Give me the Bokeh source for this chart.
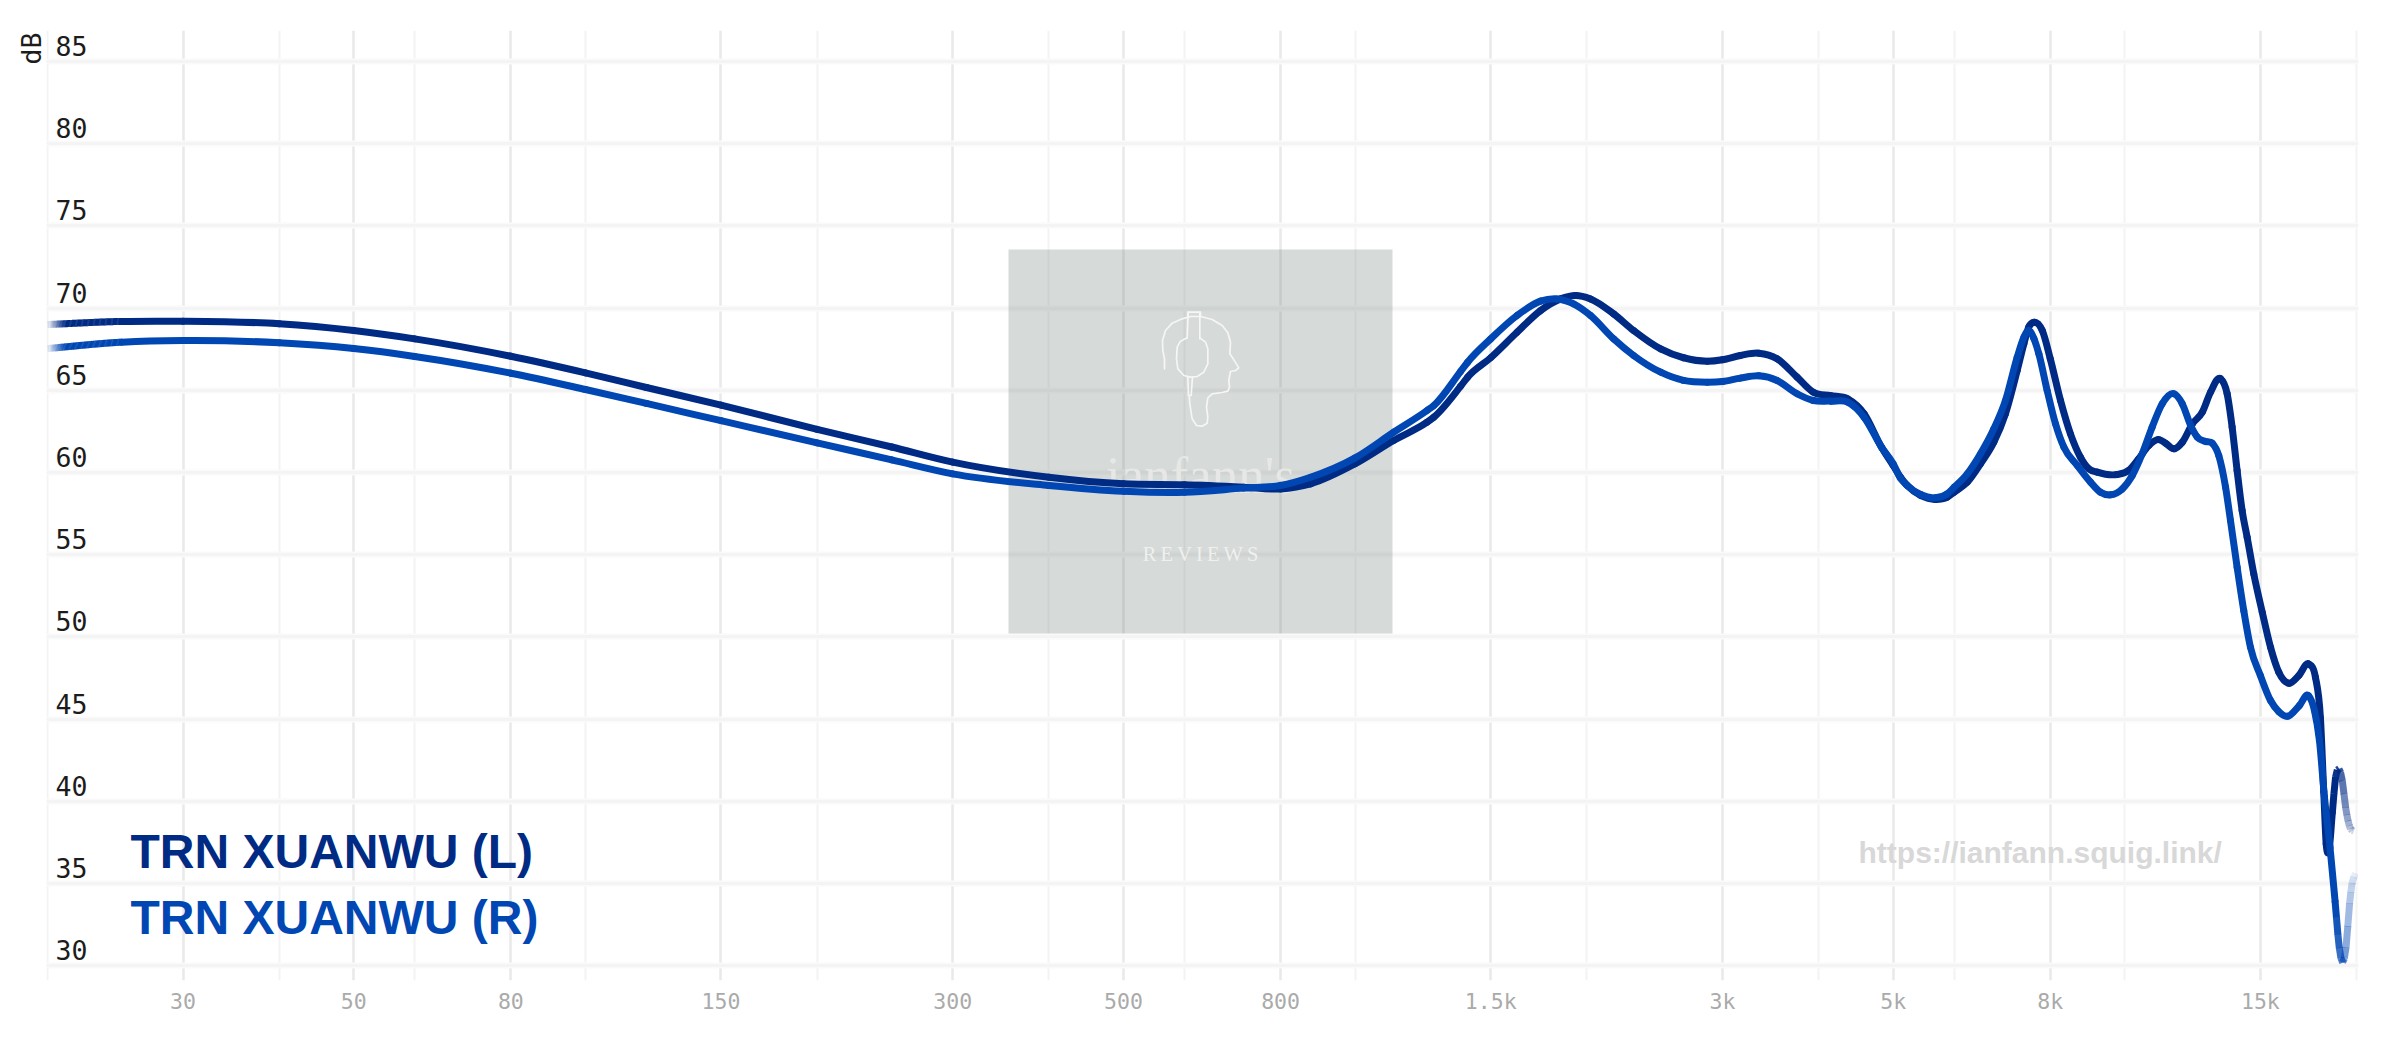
import math
from bokeh.plotting import figure
from bokeh.models import FixedTicker, Grid
from bokeh.core.properties import value
from bokeh.embed import file_html
from bokeh.resources import INLINE

L_NAME = "TRN XUANWU (L)"
R_NAME = "TRN XUANWU (R)"
URL = "https://ianfann.squig.link/"
Y_TICKS = [30, 35, 40, 45, 50, 55, 60, 65, 70, 75, 80, 85]
X_LABELLED = [30, 50, 80, 150, 300, 500, 800, 1500, 3000, 5000, 8000, 15000]
X_LABELS = ["30", "50", "80", "150", "300", "500", "800", "1.5k", "3k", "5k", "8k", "15k"]
X_MINOR = [20, 40, 60, 100, 200, 400, 600, 1000, 2000, 4000, 6000, 10000, 20000]

L_FREQ = [20, 25, 30, 40, 50, 60, 80, 100, 120, 150, 200, 250, 300, 400, 500, 600, 716, 800, 875, 1000, 1122, 1240,
          1265, 1371, 1400, 1500, 1623, 1741, 1849, 1933, 2022, 2167, 2300, 2494, 2671, 2868, 3000, 3166, 3345, 3533, 3751, 3938,
          4150, 4364, 4584, 4829, 5000, 5112, 5214, 5428, 5674, 5878, 6000, 6241, 6493, 6757, 6996, 7246, 7393, 7500, 7631, 7810,
          8000, 8249, 8498, 8756, 8979, 9207, 9775, 10111, 10420, 10742, 11069, 11295, 11580, 11875, 12238, 12608, 12920, 13315,
          13580, 13784, 13991, 14202, 14418, 14706, 15084, 15462, 15850, 16326, 16827, 17334, 17684, 17951, 18130, 18263, 18408,
          18598, 18782, 18970, 19164, 19355, 19639, 19819]
L_DB = [69.0, 69.19, 69.2, 69.05, 68.64, 68.13, 67.07, 66.06, 65.17, 64.1, 62.62, 61.55, 60.63, 59.71, 59.31, 59.25, 59.11, 59.0, 59.31, 60.53, 61.95, 63.06,
        63.36, 65.25, 65.8, 66.98, 68.53, 69.85, 70.56, 70.77, 70.56, 69.65, 68.64, 67.52, 66.98, 66.77, 66.86, 67.12, 67.26, 66.92, 65.8, 64.88,
        64.67, 64.48, 63.57, 61.54, 60.43, 59.71, 59.21, 58.6, 58.36, 58.5, 58.8, 59.41, 60.53, 61.84, 63.57, 66.2, 67.83, 68.84, 69.14, 68.64,
        66.92, 64.38, 62.35, 60.93, 60.22, 60.02, 59.88, 60.12, 60.83, 61.64, 62.0, 61.78, 61.44, 61.84, 62.96, 63.67, 64.88, 65.7,
        64.79, 62.76, 60.12, 57.69, 56.06, 53.83, 51.5, 49.37, 47.85, 47.18, 47.65, 48.35, 47.55, 45.07, 40.6, 37.4, 36.97,
        39.24, 41.46, 41.97, 41.26, 39.64, 38.33, 38.2]

R_FREQ = [20, 25, 30, 40, 50, 60, 80, 100, 120, 150, 200, 250, 300, 400, 500, 600, 716, 800, 875, 1000, 1122, 1240,
          1265, 1371, 1400, 1500, 1623, 1741, 1828, 1922, 2022, 2167, 2300, 2494, 2671, 2868, 3000, 3166, 3345, 3533, 3751, 3938,
          4150, 4364, 4584, 4829, 5000, 5112, 5214, 5428, 5674, 5878, 6000, 6241, 6493, 6757, 6996, 7246, 7393, 7500, 7618, 7731,
          7926, 8126, 8332, 8673, 9024, 9296, 9582, 9922, 10225, 10534, 10851, 11183, 11580, 11875, 12175, 12421, 12732, 12986,
          13243, 13515, 13716, 13991, 14272, 14561, 15000, 15462, 15850, 16264, 16860, 17319, 17632, 17897, 18168, 18473, 18752, 18992,
          19181, 19378, 19586, 19730, 19939]
R_DB = [67.54, 67.93, 68.03, 67.89, 67.54, 67.06, 66.04, 65.05, 64.2, 63.15, 61.8, 60.77, 59.92, 59.21, 58.86, 58.8, 59.05, 59.21, 59.71, 60.89, 62.45, 63.77,
        64.07, 66.15, 66.71, 68.13, 69.55, 70.42, 70.56, 70.26, 69.55, 68.13, 67.12, 66.1, 65.6, 65.49, 65.53, 65.74, 65.88, 65.6, 64.79, 64.38,
        64.34, 64.28, 63.36, 61.54, 60.53, 59.64, 59.21, 58.66, 58.46, 58.7, 59.1, 59.92, 61.14, 62.66, 64.38, 67.01, 68.23, 68.64, 68.15, 67.22,
        64.99, 62.96, 61.54, 60.43, 59.41, 58.8, 58.64, 59.0, 59.82, 61.14, 62.76, 64.18, 64.79, 64.18, 62.86, 62.15, 61.89, 61.78,
        61.03, 59.11, 57.08, 54.24, 51.6, 49.37, 47.65, 46.13, 45.45, 45.17, 45.83, 46.43, 45.52, 43.7, 40.25, 37.2, 33.96, 31.1,
        30.2, 31.1, 33.77, 35.0, 35.6]

L_COLOR = "#002b84"
R_COLOR = "#0047b3"
MONO = "DejaVu Sans Mono"

def f_of_px(px):
    return 30 * 10 ** ((px - 182.5) / 769.7)
def px_of_f(f):
    return 182.5 + 769.7 * math.log10(f / 30)
def db_of_py(py):
    return 85 - (py - 61) / 16.44

FRAME_L, FRAME_R, FRAME_T, FRAME_B = 46, 2358, 30, 980
W, H = 2384, 1022
p = figure(width=W, height=H, x_axis_type="log",
           x_range=(f_of_px(FRAME_L), f_of_px(FRAME_R)),
           y_range=(db_of_py(FRAME_B), db_of_py(FRAME_T)),
           output_backend="svg", toolbar_location=None,
           title="dB", title_location="left",
           min_border_left=FRAME_L, min_border_right=W - FRAME_R,
           min_border_top=FRAME_T, min_border_bottom=H - FRAME_B)
p.outline_line_color = None
p.background_fill_color = "white"
p.border_fill_color = "white"

# "dB" is the chart's left title, pushed to the top corner
p.title.align = "right"
p.title.text_font = MONO
p.title.text_font_size = "26.5px"
p.title.text_font_style = "normal"
p.title.text_color = "#1c1c1c"
p.title.standoff = 0
p.title.offset = 2
p.yaxis.visible = False

# x axis
ax = p.xaxis[0]
ax.ticker = FixedTicker(ticks=X_LABELLED)
ax.major_label_overrides = {t: s for t, s in zip(X_LABELLED, X_LABELS)}
ax.axis_line_color = None
ax.major_tick_line_color = None
ax.minor_tick_line_color = None
ax.major_label_text_color = "#aaaaaa"
ax.major_label_text_font = MONO
ax.major_label_text_font_size = "21.5px"
ax.major_label_standoff = 2

p.xgrid.visible = False
p.ygrid.visible = False
p.add_layout(Grid(dimension=0, ticker=FixedTicker(ticks=X_MINOR), grid_line_color="#f3f3f3", grid_line_width=2))
p.add_layout(Grid(dimension=0, ticker=FixedTicker(ticks=X_LABELLED), grid_line_color="#e9e9e9", grid_line_width=2.5))
p.add_layout(Grid(dimension=1, ticker=FixedTicker(ticks=Y_TICKS), grid_line_color="#fafafa", grid_line_width=6))
p.add_layout(Grid(dimension=1, ticker=FixedTicker(ticks=Y_TICKS), grid_line_color="#f4f4f4", grid_line_width=3))

# watermark
p.quad(left=[f_of_px(1008)], right=[f_of_px(1392)], bottom=[db_of_py(633)], top=[db_of_py(249)],
       fill_color="#78847f", fill_alpha=0.3, line_color=None)
LOGO = [
    [(222,205),(222,175),(217,150),(216,120),(225,90),(245,68),(275,55),(300,48),(330,48),(365,57),(395,75),(412,97),(420,125),
     (418,160),(430,178),(445,202),(435,210),(420,213),(417,228),(415,240),(417,260),(412,272),(395,276),(365,280),(352,292),
     (348,320),(352,350),(350,368),(335,377),(318,375),(305,355),(298,310),(296,285)],
    [(293,48),(293,35),(330,35),(330,48)],
    [(293,35),(290,112)],
    [(328,35),(328,115)],
    [(290,112),(270,122),(260,140),(258,175),(262,205),(280,225),(300,230),(320,228),(340,215),(352,190),(352,145),(345,125),(328,112)],
    [(292,228),(294,285),(302,285),(306,230)],
]
p.multi_line([[f_of_px(1090 + a / 3) for a, b in s] for s in LOGO],
             [[db_of_py(300 + b / 3) for a, b in s] for s in LOGO],
             line_color="#f6f6f4", line_width=1.7, line_join="round", line_cap="round")
p.text(x=[f_of_px(1200)], y=[db_of_py(474)], text=["ianfann's"], text_align="center", text_baseline="middle",
       text_font=value("Liberation Serif"), text_font_size="53px", text_color="#e7e8e5")
p.text(x=[f_of_px(1200)], y=[db_of_py(553)], text=["R\u2009E\u2009V\u2009I\u2009E\u2009W\u2009S"], text_align="center",
       text_baseline="middle", text_font=value("Liberation Serif"), text_font_size="20.5px", text_color="#f0f0ee")

# y tick labels sit inside the plot, just above each grid line
p.text(x=[f_of_px(FRAME_L)] * len(Y_TICKS), y=Y_TICKS, text=[str(v) for v in Y_TICKS], x_offset=9, y_offset=-15.5,
       text_align="left", text_baseline="middle", text_font=value(MONO), text_font_size="26.5px", text_color="#1c1c1c")

p.text(x=[f_of_px(1858)], y=[db_of_py(852)], text=[URL], text_align="left", text_baseline="middle",
       text_font=value("Liberation Sans"), text_font_style="bold", text_font_size="30px", text_color="#d8d8d8")

# curves, drawn as smooth segments through the values read, with ends fading out
LW = 7
FADE_L0, FADE_L1, FADE_R0, FADE_R1 = 47, 65, 2335, 2356
def alpha_at(px):
    if px < FADE_L1:
        return max(0.1, (px - FADE_L0) / (FADE_L1 - FADE_L0))
    if px > FADE_R0:
        return max(0.05, (FADE_R1 - px) / (FADE_R1 - FADE_R0))
    return 1.0

def draw_curve(freq, db, color):
    n = len(freq)
    xs = [px_of_f(f) for f in freq]
    m = [0.0] * n
    for i in range(n):
        if i == 0:
            m[i] = (db[1] - db[0]) / (xs[1] - xs[0])
        elif i == n - 1:
            m[i] = (db[i] - db[i - 1]) / (xs[i] - xs[i - 1])
        else:
            h0, h1 = xs[i] - xs[i - 1], xs[i + 1] - xs[i]
            s0, s1 = (db[i] - db[i - 1]) / h0, (db[i + 1] - db[i]) / h1
            m[i] = (s0 * h1 + s1 * h0) / (h0 + h1)
    bz = {k: [] for k in ("x0", "y0", "x1", "y1", "cx0", "cy0", "cx1", "cy1")}
    seg_x, seg_y, seg_a = [], [], []
    for i in range(n - 1):
        x0, x1, y0, y1 = xs[i], xs[i + 1], db[i], db[i + 1]
        h = x1 - x0
        c0x, c0y = x0 + h / 3, y0 + m[i] * h / 3
        c1x, c1y = x1 - h / 3, y1 - m[i + 1] * h / 3
        if x0 >= FADE_L1 and x1 <= FADE_R0:
            bz["x0"].append(freq[i]); bz["y0"].append(y0)
            bz["x1"].append(freq[i + 1]); bz["y1"].append(y1)
            bz["cx0"].append(f_of_px(c0x)); bz["cy0"].append(c0y)
            bz["cx1"].append(f_of_px(c1x)); bz["cy1"].append(c1y)
        else:
            k = max(2, int(h / 1.2))
            def ev(t):
                u = 1 - t
                return (u**3 * x0 + 3 * u * u * t * c0x + 3 * u * t * t * c1x + t**3 * x1,
                        u**3 * y0 + 3 * u * u * t * c0y + 3 * u * t * t * c1y + t**3 * y1)
            for j in range(k):
                xa, ya = ev(j / k)
                xb, yb = ev((j + 1) / k)
                # a small overlap keeps seams between the fading pieces from showing
                dx, dy = xb - xa, (yb - ya) * 16.44
                d = math.hypot(dx, dy) or 1.0
                seg_x.append([f_of_px(xa), f_of_px(xb + 0.4 * dx / d)])
                seg_y.append([ya, yb + 0.4 * (dy / d) / 16.44])
                seg_a.append(alpha_at((xa + xb) / 2))
    p.bezier(line_color=color, line_width=LW, line_cap="round", **bz)
    p.multi_line(seg_x, seg_y, line_color=color, line_alpha=seg_a, line_width=LW, line_cap="butt")

draw_curve(L_FREQ, L_DB, L_COLOR)
draw_curve(R_FREQ, R_DB, R_COLOR)

p.text(x=[f_of_px(130)], y=[db_of_py(851)], text=[L_NAME], text_align="left", text_baseline="middle",
       text_font=value("Liberation Sans"), text_font_style="bold", text_font_size="48px", text_color=L_COLOR)
p.text(x=[f_of_px(130)], y=[db_of_py(917)], text=[R_NAME], text_align="left", text_baseline="middle",
       text_font=value("Liberation Sans"), text_font_style="bold", text_font_size="48px", text_color=R_COLOR)

open("out.html", "w").write(file_html(p, INLINE))
